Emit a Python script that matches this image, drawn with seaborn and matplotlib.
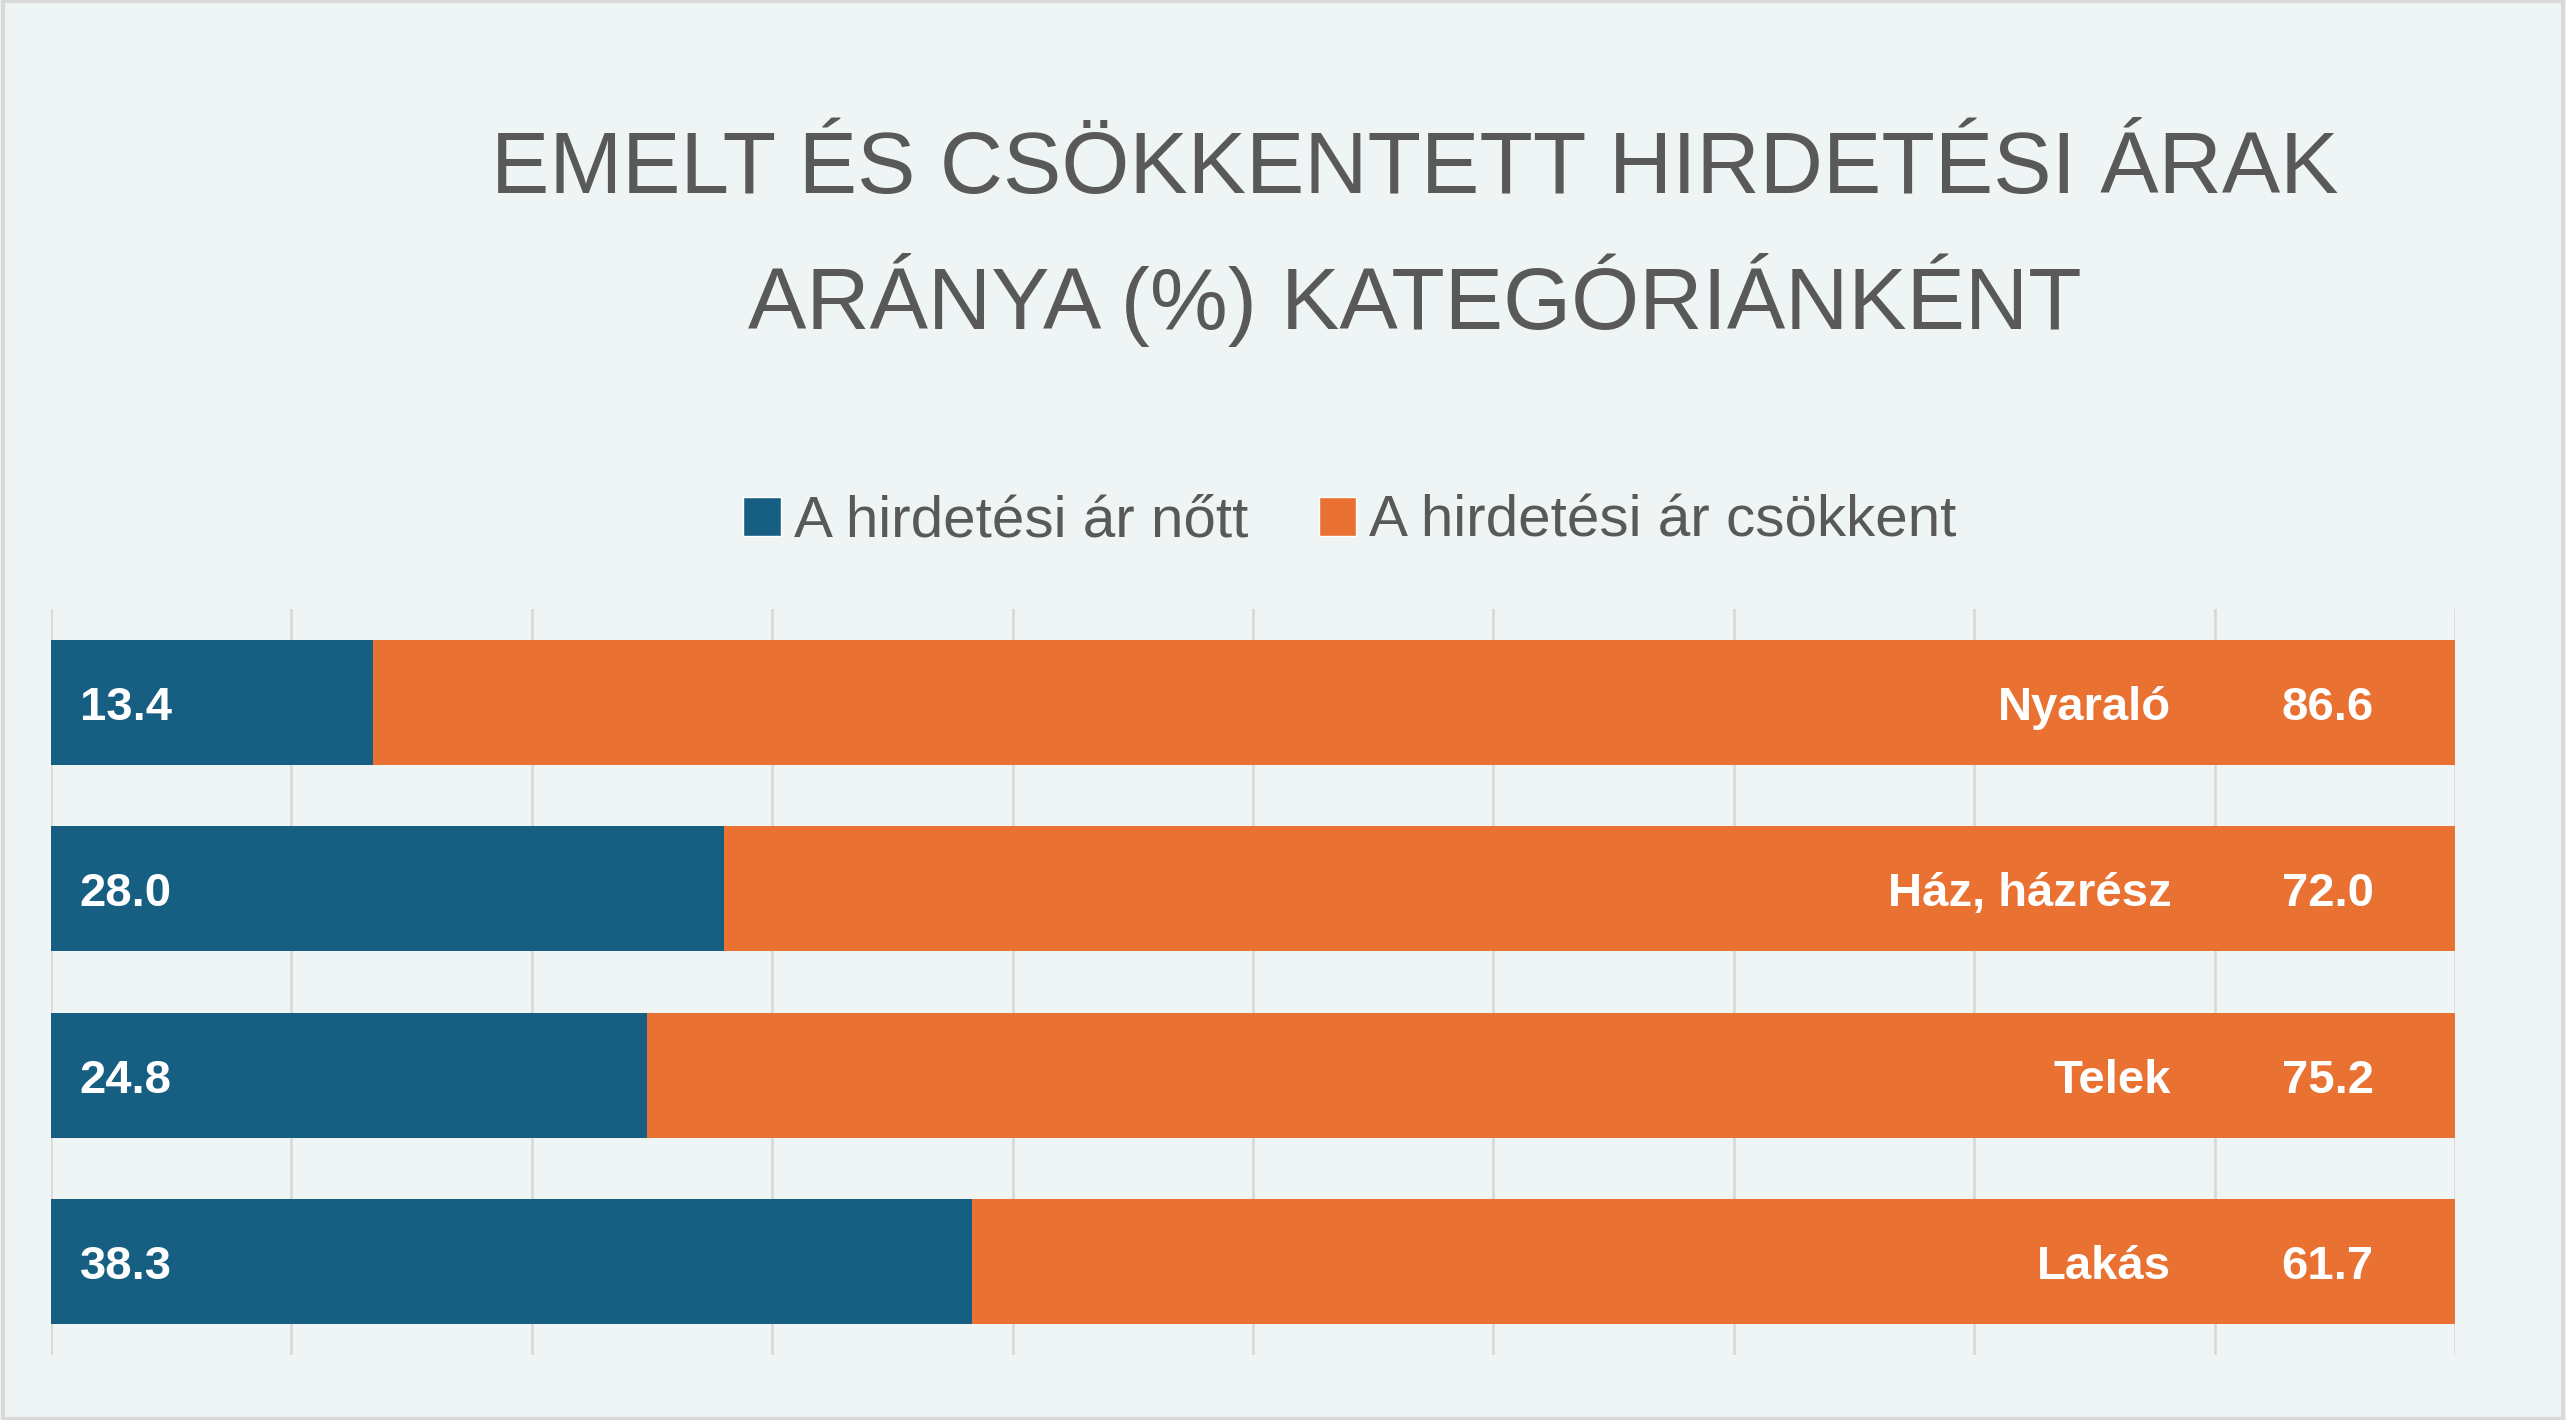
import pandas as pd
import seaborn as sns
import matplotlib.pyplot as plt
from matplotlib.patches import Patch, Rectangle

# data
categories = ["Nyaraló", "Ház, házrész", "Telek", "Lakás"]
grew = [13.4, 28.0, 24.8, 38.3]
fell = [86.6, 72.0, 75.2, 61.7]
series_names = ["A hirdetési ár nőtt", "A hirdetési ár csökkent"]

BLUE = "#165f82"
ORANGE = "#e97132"
BG = "#eff5f5"
GREY = "#595959"


def visualize():
    df = pd.DataFrame({"Kategória": categories, "Nőtt": grew, "Csökkent": fell})
    df["Összesen"] = df["Nőtt"] + df["Csökkent"]

    sns.set_theme(style="white")
    plt.rcParams["font.family"] = ["Liberation Sans", "DejaVu Sans"]

    fig = plt.figure(figsize=(25.66, 14.2), dpi=100, facecolor=BG)
    ax = fig.add_axes([51 / 2566, 1 - 1355 / 1420, 2404 / 2566, 746 / 1420])
    ax.set_facecolor(BG)

    # stacked bars: full length in orange, the "grew" part on top in blue
    sns.barplot(data=df, y="Kategória", x="Összesen", order=categories, color=ORANGE,
                width=0.67, saturation=1, linewidth=0, ax=ax)
    sns.barplot(data=df, y="Kategória", x="Nőtt", order=categories, color=BLUE,
                width=0.67, saturation=1, linewidth=0, ax=ax)

    ax.set_xlim(0, 100)
    ax.set_ylim(3.5, -0.5)
    ax.set_xticks(range(0, 101, 10))
    ax.set_xticklabels([])
    ax.set_yticklabels([])
    ax.set_xlabel("")
    ax.set_ylabel("")
    ax.tick_params(length=0)
    ax.grid(axis="x", color="#d9d9d9", linewidth=2)
    ax.set_axisbelow(True)
    for s in ax.spines.values():
        s.set_visible(False)

    lab = dict(color="white", fontsize=34, fontweight="bold", va="center")
    for i, row in df.iterrows():
        y = i + 0.03
        ax.text(1.2, y, f"{row['Nőtt']:.1f}", ha="left", **lab)
        ax.text(88.2, y, row["Kategória"], ha="right", **lab)
        ax.text(94.7, y, f"{row['Csökkent']:.1f}", ha="center", **lab)

    # title
    fig.text(1415 / 2566, 1 - 193 / 1420, "EMELT ÉS CSÖKKENTETT HIRDETÉSI ÁRAK",
             ha="center", va="baseline", fontsize=63, color=GREY)
    fig.text(1415 / 2566, 1 - 329 / 1420, "ARÁNYA (%) KATEGÓRIÁNKÉNT",
             ha="center", va="baseline", fontsize=63, color=GREY)

    handles = [Patch(facecolor=BLUE, label=series_names[0]),
               Patch(facecolor=ORANGE, label=series_names[1])]
    fig.legend(handles=handles, loc="center", bbox_to_anchor=(1350 / 2566, 1 - 522 / 1420),
               ncol=2, frameon=False, fontsize=42, labelcolor=GREY,
               handlelength=0.65, handleheight=0.65, handletextpad=0.22, columnspacing=1.2)

    fig.patches.append(Rectangle((0.001, 0.001), 0.998, 0.998, transform=fig.transFigure,
                                 fill=False, edgecolor="#d9d9d9", linewidth=3))

    fig.savefig("out.png", dpi=100, facecolor=BG)


if __name__ == "__main__":
    visualize()
